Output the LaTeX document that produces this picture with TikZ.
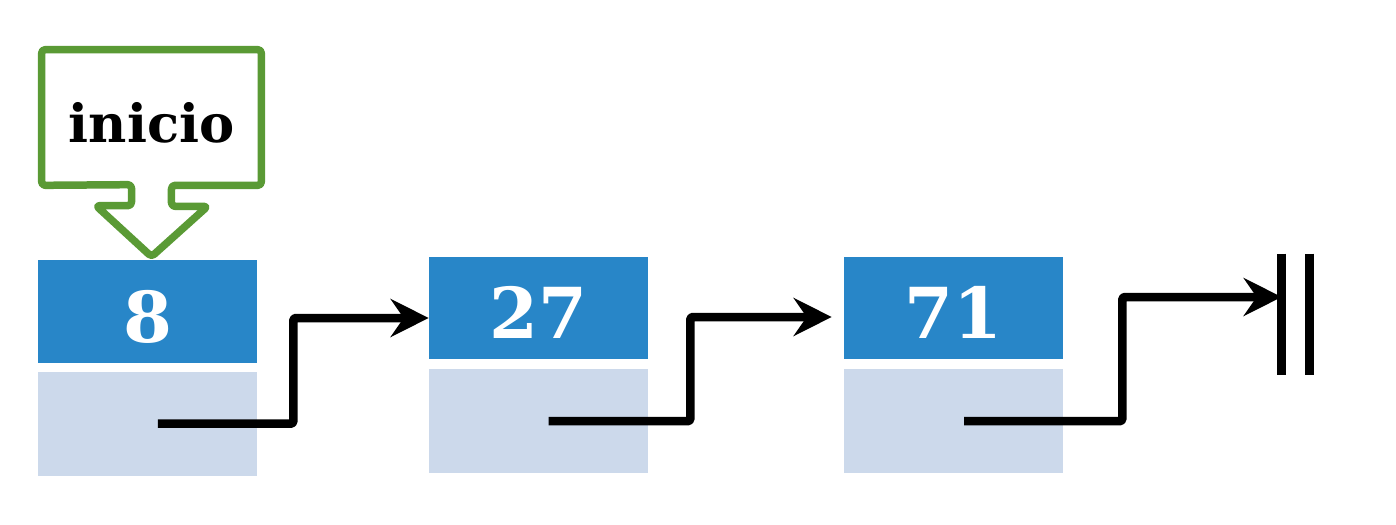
\documentclass[tikz,border=0pt]{standalone}
\usepackage{fontspec}
\setmainfont{DejaVu Serif}
\usetikzlibrary{arrows.meta,positioning}
\definecolor{cData}{HTML}{2886C8}
\definecolor{cPtr}{HTML}{CCD9EB}
\definecolor{cHead}{HTML}{5A9A35}

\begin{document}
\begin{tikzpicture}[
  x=0.02cm, y=-0.02cm,
  >={Stealth[length=7.6mm, width=7.6mm, inset=2.6mm]},
  data/.style={fill=cData, text=white, font=\fontsize{40}{44}\selectfont\bfseries,
               minimum width=43.8mm, minimum height=20.6mm, inner sep=0pt,
               text height=12.3mm, text depth=0pt},
  ptr/.style={fill=cPtr, minimum width=43.8mm, minimum height=20.8mm, inner sep=0pt},
  link/.style={->, line width=1.7mm, line join=round, rounded corners=1pt},
  nilbar/.style={line width=1.7mm},
  callout/.style={draw=cHead, line width=1.5mm, line join=round, rounded corners=2pt},
]
\useasboundingbox (0,0) rectangle (1396,524);

% ---------------- list cells ----------------
\node (d1) [data] at (147.5,311.5) {8};
\node (p1) [ptr, below=1.6mm of d1] {};
\node (d2) [data] at (538.5,308) {27};
\node (p2) [ptr, below=1.8mm of d2] {};
\node (d3) [data] at (953.5,308) {71};
\node (p3) [ptr, below=1.8mm of d3] {};

% ---------------- end of list ----------------
\node (nil) [minimum width=5.4mm, minimum height=24.2mm, inner sep=0pt] at (1295.5,314.5) {};
\draw[nilbar] (nil.north west) -- (nil.south west);
\draw[nilbar] (nil.north east) -- (nil.south east);

% ---------------- links ----------------
\draw[link] ([xshift=2.1mm]p1.center) -- ([xshift=7.2mm]p1.east) |- ([yshift=-2mm]d2.west);
\draw[link] ([xshift=2mm]p2.center) -- ([xshift=8.4mm]p2.east) |- ([xshift=-2.4mm,yshift=-1.8mm]d3.west);
\draw[link] ([xshift=2.1mm]p3.center) -- ([xshift=11.8mm]p3.east) |- ([yshift=3.5mm]nil.west);

% ---------------- head pointer ----------------
\node (inicio) [minimum width=43.8mm, minimum height=27mm, inner sep=0pt,
                text height=10mm, text depth=0pt,
                font=\fontsize{30}{36}\selectfont\bfseries] at (151.5,117.5) {inicio};
\draw[callout] (inicio.south west) -- (inicio.north west) -- (inicio.north east)
  -- (inicio.south east) -- ([xshift=4mm]inicio.south) -- ++(0,21) -- ++(36,0)
  -- ([yshift=0.6mm]inicio.south |- d1.north) -- ++(-55.5,-51) -- ++(35.5,0)
  -- ++(0,-21) -- cycle;

\end{tikzpicture}
\end{document}
